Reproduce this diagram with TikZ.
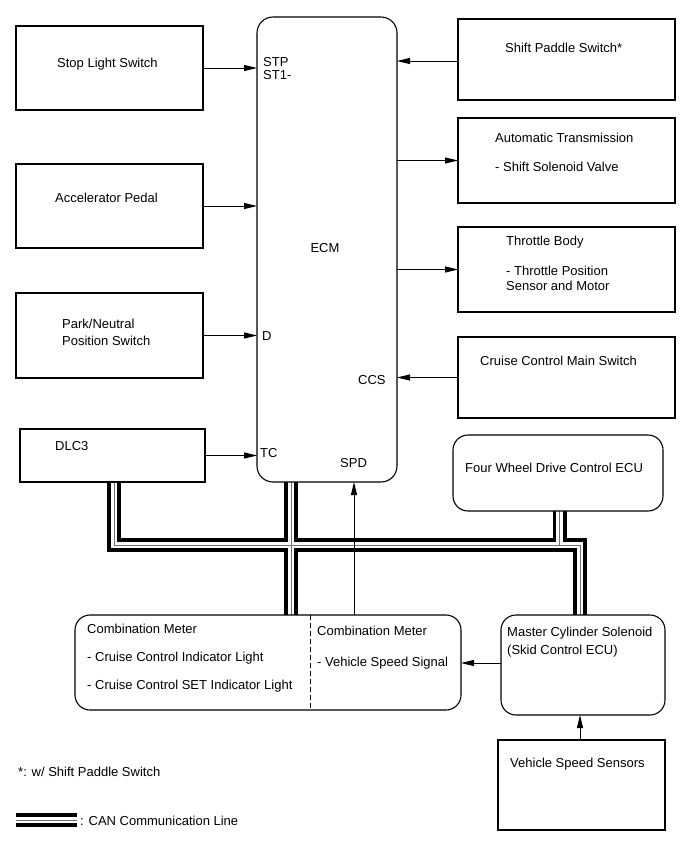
\documentclass[tikz,border=0pt]{standalone}
\usepackage{fontspec}
\setmainfont{Liberation Sans}
\usetikzlibrary{arrows.meta,backgrounds}
\begin{document}
\begin{tikzpicture}[x=1pt,y=-1pt,
  box/.style={draw, line width=1.1pt, fill=white, rectangle, inner sep=0pt, outer sep=0pt},
  rbox/.style={box, rounded corners=15pt},
  txt/.style={anchor=base west, inner sep=0pt, font=\fontsize{13}{15}\selectfont},
  ctxt/.style={anchor=base, inner sep=0pt, font=\fontsize{13}{15}\selectfont},
  arr/.style={line width=1pt, -{Triangle[length=13pt,width=6pt]}},
  busblack/.style={line width=14pt, black, line join=miter},
  buswhite/.style={line width=6.5pt, white, line join=miter},
  busgrey/.style={line width=0.8pt, black!55, line join=miter},
]
\useasboundingbox (0,0) rectangle (690,855);

% boxes
\node[box, minimum width=187pt, minimum height=84pt] (sls) at (109.5,68) {};
\node[box, minimum width=187pt, minimum height=84pt] (acc) at (109.5,206) {};
\node[box, minimum width=187pt, minimum height=85pt] (pnp) at (109.5,335.5) {};
\node[box, minimum width=185pt, minimum height=53pt] (dlc) at (112.5,455.5) {};
\node[rbox, rounded corners=16pt, minimum width=140pt, minimum height=465pt] (ecm) at (327,249.5) {};
\node[box, minimum width=217pt, minimum height=81pt] (sps) at (566.5,59.5) {};
\node[box, minimum width=217pt, minimum height=85pt] (at) at (566.5,160.5) {};
\node[box, minimum width=217pt, minimum height=85pt] (tb) at (566.5,269.5) {};
\node[box, minimum width=217pt, minimum height=81pt] (ccms) at (566.5,377.5) {};
\node[rbox, minimum width=210pt, minimum height=76pt] (fwd) at (558,473) {};
\node[rbox, minimum width=386pt, minimum height=95pt] (comb) at (268,662.5) {};
\node[rbox, minimum width=164pt, minimum height=100pt] (mc) at (583,665) {};
\node[box, minimum width=167pt, minimum height=90pt] (vss) at (581.5,785) {};

% dashed divider in combination meter
\coordinate (dv) at (310,0);
\draw[line width=1pt, dash pattern=on 5pt off 3pt] (comb.north -| dv) -- (comb.south -| dv);

% CAN bus
\coordinate (bA) at (114,545);
\coordinate (bE) at (291,545);
\coordinate (bF) at (559.5,545);
\coordinate (bM) at (580,545);
\coordinate (lg1) at (16,820);
\coordinate (lg2) at (77,820);
\begin{scope}[on background layer]
\foreach \st in {busblack,buswhite,busgrey}{
  \draw[\st] ([yshift=3pt]dlc.south -| bA) -- (bA) -- (bM) -- ([yshift=-3pt]mc.north -| bM);
  \draw[\st] ([yshift=3pt]ecm.south -| bE) -- ([yshift=-3pt]comb.north -| bE);
  \draw[\st] ([yshift=3pt]fwd.south -| bF) -- (bF);
  \draw[\st] (lg1) -- (lg2);
}
\end{scope}

% arrows
\draw[arr] (sls.east) -- (sls.east -| ecm.west);
\draw[arr] (acc.east) -- (acc.east -| ecm.west);
\draw[arr] (pnp.east) -- (pnp.east -| ecm.west);
\draw[arr] (dlc.east) -- (dlc.east -| ecm.west);
\draw[arr] ([yshift=-1.5pt]sps.west) -- ([yshift=-1.5pt]sps.west -| ecm.east);
\draw[arr] (at.west -| ecm.east) -- (at.west);
\draw[arr] (tb.west -| ecm.east) -- (tb.west);
\draw[arr] (ccms.west) -- (ccms.west -| ecm.east);
\coordinate (spdx) at (354,0);
\draw[arr] (comb.north -| spdx) -- (ecm.south -| spdx);
\draw[arr] ([yshift=2pt]mc.west) -- ([yshift=2pt]mc.west -| comb.east);
\coordinate (vx) at (580,0);
\draw[arr] (vss.north -| vx) -- (mc.south -| vx);

% texts
\node[txt] (t1) at (57,67.7) {Stop Light Switch};
\node[txt] (t2) at (55,202.7) {Accelerator Pedal};
\node[txt] (t3) at (62,328.7) {Park/Neutral};
\node[txt] (t4) at (62,345.7) {Position Switch};
\node[txt] (t5) at (55,450.7) {DLC3};
\node[txt] (t6) at (263,66.7) {STP};
\node[txt] (t7) at (263,79.7) {ST1-};
\node[ctxt] (t8) at (325,252.7) {ECM};
\node[txt] (t9) at (262,340.7) {D};
\node[txt] (t10) at (260,457.7) {TC};
\node[txt] (t11) at (340,467.7) {SPD};
\node[txt] (t12) at (358,384.7) {CCS};
\node[txt] (t13) at (505,52.7) {Shift Paddle Switch*};
\node[txt] (t14) at (495,142.7) {Automatic Transmission};
\node[txt] (t15) at (495,171.7) {- Shift Solenoid Valve};
\node[txt] (t16) at (506,245.7) {Throttle Body};
\node[txt] (t17) at (506,275.7) {- Throttle Position};
\node[txt] (t18) at (506,290.7) {Sensor and Motor};
\node[txt] (t19) at (480,365.7) {Cruise Control Main Switch};
\node[txt] (t20) at (465,472.7) {Four Wheel Drive Control ECU};
\node[txt] (t21) at (87,633.7) {Combination Meter};
\node[txt] (t22) at (87,661.7) {- Cruise Control Indicator Light};
\node[txt] (t23) at (87,689.7) {- Cruise Control SET Indicator Light};
\node[txt] (t24) at (317,635.7) {Combination Meter};
\node[txt] (t25) at (317,666.7) {- Vehicle Speed Signal};
\node[txt] (t26) at (507,636.7) {Master Cylinder Solenoid};
\node[txt] (t27) at (507,654.7) {(Skid Control ECU)};
\node[txt] (t28) at (510,767.7) {Vehicle Speed Sensors};
\node[txt] (t29) at (18,776.7) {*: w/ Shift Paddle Switch};
\node[txt] (t30) at (80,825.7) {: CAN Communication Line};
\end{tikzpicture}
\end{document}
